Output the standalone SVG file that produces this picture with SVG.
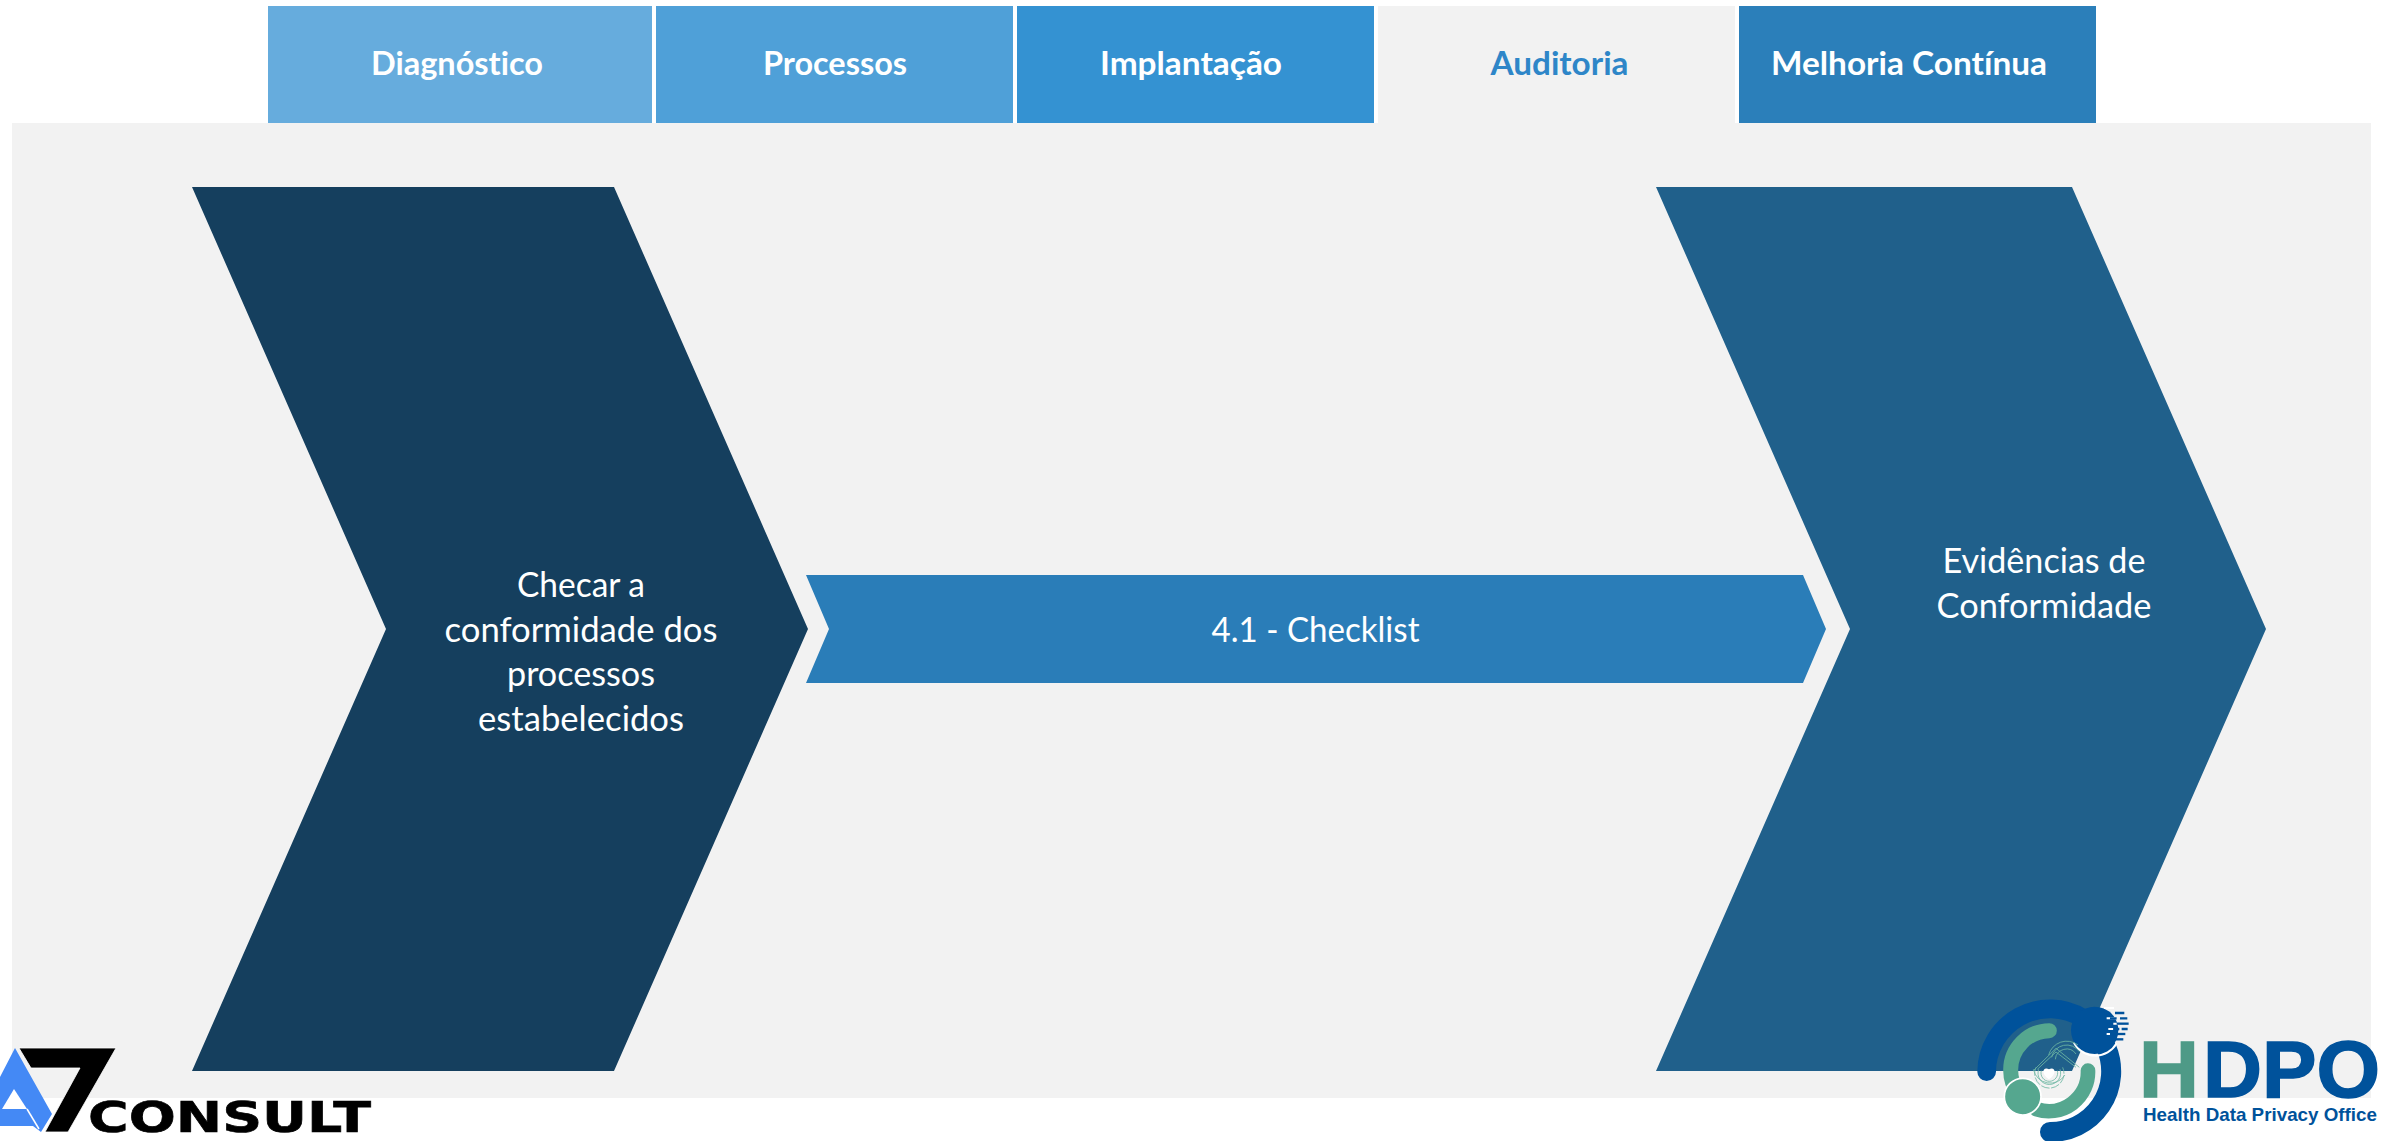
<svg xmlns="http://www.w3.org/2000/svg" width="2384" height="1141" viewBox="0 0 2384 1141">
<style>
text{font-family:"Lato","Open Sans","Liberation Sans",sans-serif;text-anchor:middle;font-variant-ligatures:none}
.tab{font-size:32px;font-weight:700;fill:#fff}
.body{font-size:34px;fill:#fff}
.b{fill:none;stroke:#00529b;stroke-linecap:round}
.g{fill:none;stroke:#55a78f;stroke-linecap:round}
.fp{fill:none;stroke:#6db7a2;stroke-width:2.5}
.logo{font-family:"Liberation Sans",Arial,sans-serif;font-weight:700;text-anchor:start}
</style>
<rect width="2384" height="1141" fill="#fff"/>
<rect id="panel" x="12" y="123" width="2359" height="975" fill="#f2f2f2"/>
<g id="tab-diagnostico"><rect x="268" y="6" width="384" height="117" fill="#66acdd"/><text class="tab" x="457" y="75" textLength="172" lengthAdjust="spacingAndGlyphs">Diagnóstico</text></g>
<g id="tab-processos"><rect x="656" y="6" width="357" height="117" fill="#4fa0d8"/><text class="tab" x="835" y="75" textLength="144" lengthAdjust="spacingAndGlyphs">Processos</text></g>
<g id="tab-implantacao"><rect x="1017" y="6" width="357" height="117" fill="#3492d2"/><text class="tab" x="1191" y="75" textLength="182" lengthAdjust="spacingAndGlyphs">Implantação</text></g>
<g id="tab-auditoria"><rect x="1378" y="6" width="357" height="117" fill="#f2f2f2"/><text class="tab" x="1559.500" y="75" textLength="138" lengthAdjust="spacingAndGlyphs" style="fill:#2e86c8">Auditoria</text></g>
<g id="tab-melhoria"><rect x="1739" y="6" width="357" height="117" fill="#2b7fba"/><text class="tab" x="1909" y="75" textLength="276" lengthAdjust="spacingAndGlyphs">Melhoria Contínua</text></g>
<g id="node-checar"><polygon points="192,187 614,187 808,629 614,1071 192,1071 386,629" fill="#153f5e"/>
<text class="body" x="581" y="597" textLength="128" lengthAdjust="spacingAndGlyphs">Checar a</text>
<text class="body" x="581" y="642" textLength="273" lengthAdjust="spacingAndGlyphs">conformidade dos</text>
<text class="body" x="581" y="686" textLength="148" lengthAdjust="spacingAndGlyphs">processos</text>
<text class="body" x="581" y="731" textLength="206" lengthAdjust="spacingAndGlyphs">estabelecidos</text></g>
<g id="node-checklist"><polygon points="806,575 1803,575 1826,629 1803,683 806,683 829,629" fill="#2a7db8"/>
<text class="body" x="1315.500" y="642" textLength="208" lengthAdjust="spacingAndGlyphs">4.1 - Checklist</text></g>
<g id="node-evidencias"><polygon points="1656,187 2072,187 2266,629 2072,1071 1656,1071 1850,629" fill="#20608b"/>
<text class="body" x="2044" y="573" textLength="203" lengthAdjust="spacingAndGlyphs">Evidências de</text>
<text class="body" x="2044" y="618" textLength="215" lengthAdjust="spacingAndGlyphs">Conformidade</text></g>
<g id="logo-a7">
<polygon points="15,1048 52,1114 41,1132 33,1126 0,1126 0,1077" fill="#4489f5"/>
<polygon points="14,1089 27,1109 2,1109" fill="#fff"/>
<path d="M27 1109L39 1129" stroke="#fff" stroke-width="1.5"/>
<polygon points="19,1048 116,1048 68,1132 45,1132 80,1068 31,1068" fill="#000" stroke="#fff" stroke-width=".8"/>
<text x="88" y="1132" font-size="43" textLength="283" lengthAdjust="spacingAndGlyphs" stroke="#000" stroke-width=".6" style="font-family:'DejaVu Sans',sans-serif;font-weight:700;text-anchor:start;fill:#000">CONSULT</text>
</g>
<g id="logo-hdpo">
<g transform="translate(1950 980) scale(.3333)">
<path class="b" stroke-width="56" d="M110 275A190 190 0 0 1 400 115"/>
<path class="b" stroke-width="60" d="M470 205A182 182 0 0 1 300 456"/>
<path class="g" stroke-width="45" d="M298 152A118 118 0 0 0 182 270Q182 310 205 340"/>
<path class="g" stroke-width="44" d="M414 272A118 118 0 0 1 260 388"/>
<circle cx="218" cy="350" r="55" fill="#55a78f" stroke="#fff" stroke-width="5"/>
<path d="M372 188A73 73 0 0 0 500 190" fill="none" stroke="#fff" stroke-width="6"/>
<circle cx="434" cy="151" r="71" fill="#00529b"/>
<g fill="none" stroke="#fff" stroke-width="6"><path d="M462 84h30M470 115h30M490 131h20M475 147h15M470 162h12"/></g>
<g fill="none" stroke="#00529b" stroke-width="7">
<path d="M465 99h16M495 99h28"/><path d="M480 115h20M510 115h22"/><path d="M500 131h36"/><path d="M490 147h18M515 147h18"/><path d="M480 162h46"/><path d="M495 178h25"/>
</g>
<g class="fp"><path d="M305 232A46 46 0 0 1 388 215"/><path d="M296 225A56 56 0 0 1 384 195"/><path d="M316 238A34 34 0 0 1 378 222"/>
<path d="M252 270L318 205L388 262"/><path d="M262 268L318 216L378 262"/>
<path d="M258 262A44 44 0 1 0 338 262" stroke-dasharray="26 5"/><path d="M266 268A34 34 0 1 0 330 268"/><path d="M274 272A25 25 0 1 0 322 272"/><path d="M250 268A52 52 0 0 0 345 285"/></g>
<path d="M297 298C270 280 280 258 297 268C314 258 324 280 297 298Z" fill="#fff"/>
</g>
<text class="logo" x="2139" y="1096.500" font-size="80" textLength="60" lengthAdjust="spacingAndGlyphs" fill="#4e9a87" stroke="#4e9a87" stroke-width="1.500">H</text>
<text class="logo" x="2203" y="1096.500" font-size="80" textLength="177" lengthAdjust="spacingAndGlyphs" fill="#00529b" stroke="#00529b" stroke-width="1.500">DPO</text>
<text class="logo" x="2143" y="1121" font-size="18.5" textLength="234" lengthAdjust="spacingAndGlyphs" fill="#00529b">Health Data Privacy Office</text>
</g>
</svg>
